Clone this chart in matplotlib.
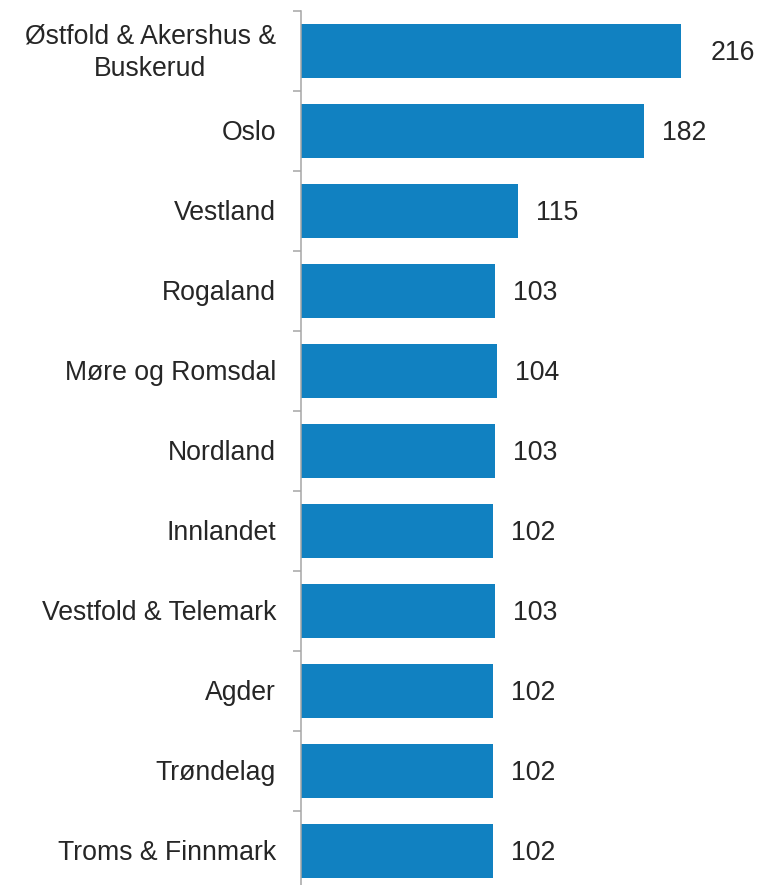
import matplotlib.pyplot as plt
import matplotlib.ticker as mticker
from matplotlib.transforms import offset_copy

regions = [
    "Østfold & Akershus &\nBuskerud",
    "Oslo",
    "Vestland",
    "Rogaland",
    "Møre og Romsdal",
    "Nordland",
    "Innlandet",
    "Vestfold & Telemark",
    "Agder",
    "Trøndelag",
    "Troms & Finnmark",
]
values = [216, 182, 115, 103, 104, 103, 102, 103, 102, 102, 102]

BAR_CLR = "#1181C1"
TXT_CLR = "#262626"
AX_CLR = "#A6A6A6"
XMAX = 201.4
FS = 19.2

plt.rcParams["font.family"] = ["Liberation Sans", "DejaVu Sans"]

fig = plt.figure(figsize=(7.58, 8.85), dpi=100)
ax = fig.add_axes([301 / 758, -6 / 885, 380 / 758, 880 / 885])

pos = list(range(len(values)))
ax.barh(pos, values, height=0.67, color=BAR_CLR)
ax.set_xlim(0, XMAX)
ax.set_ylim(len(values) - 0.5, -0.5)

# value labels, clipped bar gets its label at the plot edge
for y, v in zip(pos, values):
    pad = 18 if v <= XMAX else 30
    tr = offset_copy(ax.transData, fig=fig, x=pad, y=-2.5, units="dots")
    ax.text(min(v, XMAX), y, f"{v}", transform=tr, ha="left", va="center",
            fontsize=FS, color=TXT_CLR, clip_on=False)

# category labels
for y, name in zip(pos, regions):
    tr = offset_copy(ax.get_yaxis_transform(), fig=fig, x=-25, y=-2, units="dots")
    ax.text(0, y, name, transform=tr, ha="right", va="center",
            multialignment="center", fontsize=FS, color=TXT_CLR,
            linespacing=1.33)

ax.set_yticks([])
ax.yaxis.set_minor_locator(mticker.FixedLocator([p - 0.5 for p in range(len(values) + 1)]))
ax.tick_params(axis="y", which="minor", length=5.8, width=1.1, color=AX_CLR, left=True)
ax.set_xticks([])
for side in ["top", "right", "bottom"]:
    ax.spines[side].set_visible(False)
ax.spines["left"].set_color(AX_CLR)
ax.spines["left"].set_linewidth(1.1)

fig.savefig("out.png", dpi=100)
